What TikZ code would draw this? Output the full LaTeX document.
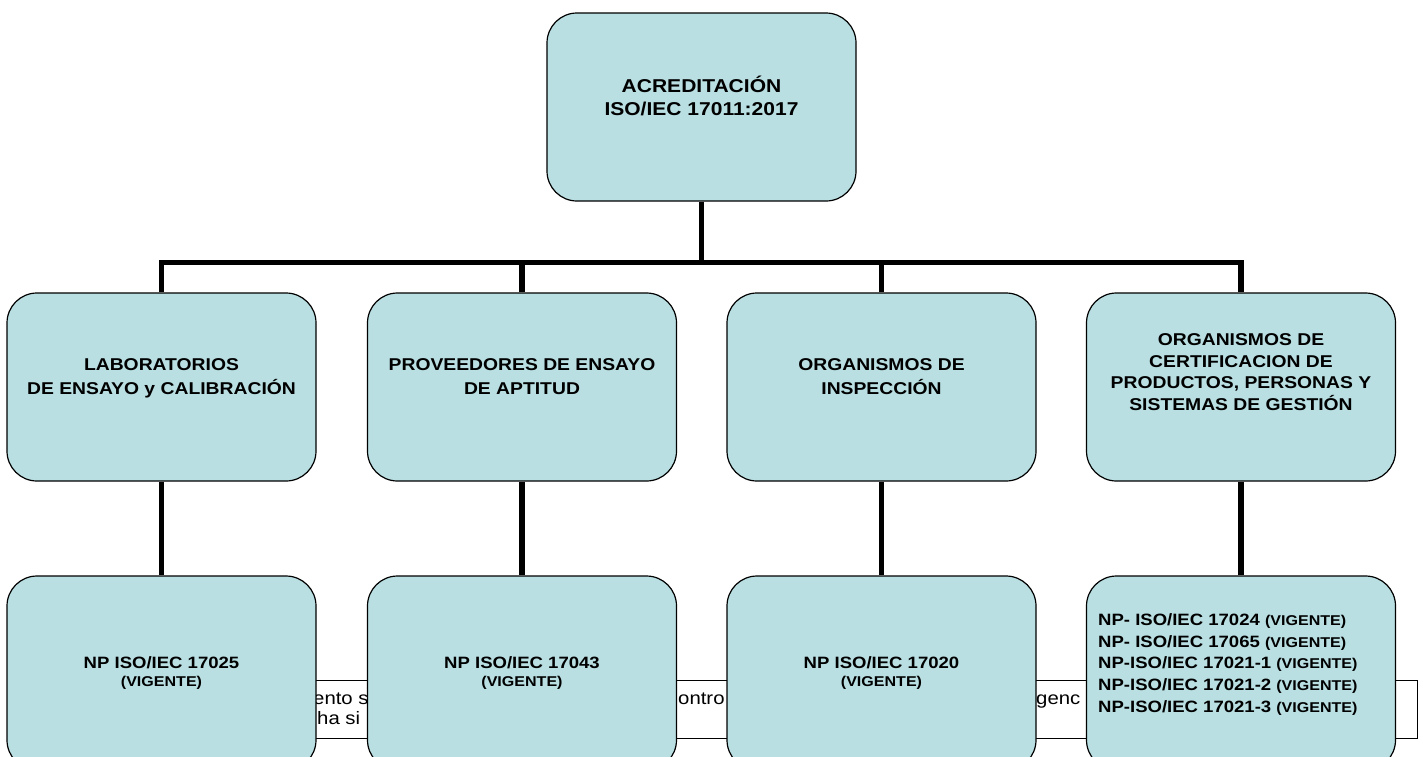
\documentclass[tikz,border=0pt]{standalone}
\usepackage{fontspec}
\setmainfont{Liberation Sans}[FakeStretch=1.13]
\definecolor{boxfill}{RGB}{185,223,227}
\begin{document}
\begin{tikzpicture}[x=1pt,y=-1pt,
  box/.style={draw=black, line width=1.2pt, fill=boxfill, rounded corners=30pt,
    minimum width=309pt, minimum height=188pt, inner sep=0pt},
  conn/.style={line width=5.5pt},
  toptxt/.style={align=center, inner sep=0pt, font=\fontsize{18.6}{22.3}\selectfont\bfseries},
  midtxt/.style={align=center, inner sep=0pt, font=\fontsize{17.1}{23.3}\selectfont\bfseries},
  certtxt/.style={align=center, inner sep=0pt, font=\fontsize{17.1}{21.7}\selectfont\bfseries},
  lowtxt/.style={align=center, inner sep=0pt, font=\fontsize{16.4}{18.4}\selectfont\bfseries},
  listtxt/.style={align=left, inner sep=0pt, font=\fontsize{16.4}{21.7}\selectfont\bfseries},
  bgtxt/.style={inner sep=0pt, font=\fontsize{18}{20}\selectfont}]
\newcommand{\vigsm}{\fontsize{14.2}{18.4}\selectfont}
\newcommand{\vigls}{\fontsize{14.2}{21.7}\selectfont}
\useasboundingbox (0,0) rectangle (1423,756);
\clip (0,0) rectangle (1423,756);

% background text box (partly hidden)
\node[draw=black, line width=1.3pt, fill=white, anchor=north west, minimum width=1167pt, minimum height=58pt, inner sep=0pt] (note) at (250,680) {};
\node[bgtxt, anchor=base west] (f1) at (313,704) {ento s};
\node[bgtxt, anchor=base west] (f2) at (317,724) {ha si};
\node[bgtxt, anchor=base west] (f3) at (678,704) {ontro};
\node[bgtxt, anchor=base west] (f4) at (1036,704) {genc};

% boxes
\node[box] (top) at (701.5,107) {};
\node[box] (l1) at (161.5,387) {};
\node[box] (l2) at (522,387) {};
\node[box] (l3) at (881.5,387) {};
\node[box] (l4) at (1241,387) {};
\coordinate (bar) at (701.5,262.5);

% connectors
\draw[conn] (top.south) -- (bar);
\draw[conn] (l1.north) |- (bar) -| (l4.north);
\draw[conn] (l2.north) -- (l2.north |- bar);
\draw[conn] (l3.north) -- (l3.north |- bar);

\node[box, minimum height=194pt] (n1) at (161.5,673) {};
\node[box, minimum height=194pt] (n2) at (522,673) {};
\node[box, minimum height=194pt] (n3) at (881.5,673) {};
\node[box, minimum height=194pt] (n4) at (1241,673) {};

\draw[conn] (l1.south) -- (n1.north);
\draw[conn] (l2.south) -- (n2.north);
\draw[conn] (l3.south) -- (n3.north);
\draw[conn] (l4.south) -- (n4.north);

% texts (anchor base = baseline of last line)
\node[toptxt, anchor=base] (ttop) at (701.5,115) {ACREDITACIÓN\\ISO/IEC 17011:2017};
\node[midtxt, anchor=base] (t1) at (161.5,394) {LABORATORIOS\\DE ENSAYO y CALIBRACIÓN};
\node[midtxt, anchor=base] (t2) at (522,394) {PROVEEDORES DE ENSAYO\\DE APTITUD};
\node[midtxt, anchor=base] (t3) at (881.5,394) {ORGANISMOS DE\\INSPECCIÓN};
\node[certtxt, anchor=base] (t4) at (1241,410.6) {ORGANISMOS DE\\CERTIFICACION DE\\PRODUCTOS, PERSONAS Y\\SISTEMAS DE GESTIÓN};

\node[lowtxt, anchor=base] (u1) at (161.5,686.7) {NP ISO/IEC 17025\\{\vigsm (VIGENTE)}};
\node[lowtxt, anchor=base] (u2) at (522,686.7) {NP ISO/IEC 17043\\{\vigsm (VIGENTE)}};
\node[lowtxt, anchor=base] (u3) at (881.5,686.7) {NP ISO/IEC 17020\\{\vigsm (VIGENTE)}};
\node[listtxt, anchor=base west] (u4) at (1098,712.3) {NP- ISO/IEC 17024 {\vigls(VIGENTE)}\\
NP- ISO/IEC 17065 {\vigls(VIGENTE)}\\
NP-ISO/IEC 17021-1 {\vigls(VIGENTE)}\\
NP-ISO/IEC 17021-2 {\vigls(VIGENTE)}\\
NP-ISO/IEC 17021-3 {\vigls(VIGENTE)}};
\end{tikzpicture}
\end{document}
